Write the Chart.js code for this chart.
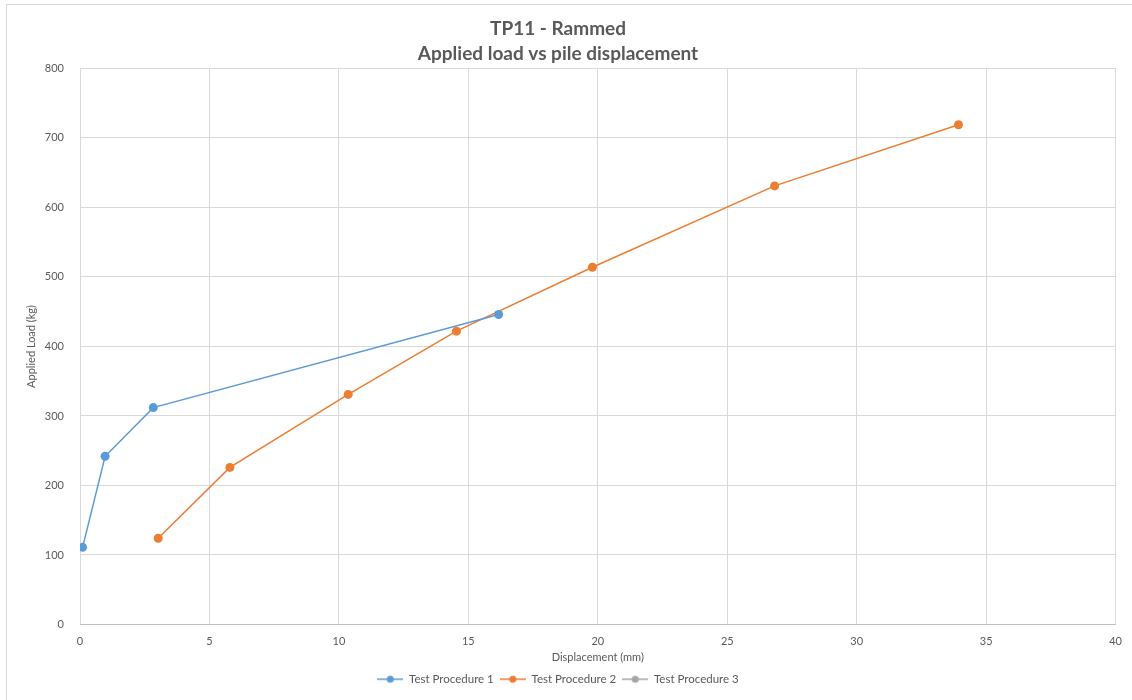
<!DOCTYPE html>
<html>
<head>
<meta charset="utf-8">
<script src="https://cdn.jsdelivr.net/npm/chart.js@4"></script>
<style>
  html, body { margin: 0; padding: 0; background: #fff; }
  #wrap { position: absolute; left: 0; top: 0; width: 1132px; height: 700px; }
  #frame { position: absolute; left: 6px; top: 4px; width: 1140px; height: 710px; border: 1px solid #d9d9d9; box-sizing: border-box; pointer-events: none; }
</style>
</head>
<body>
<div id="wrap">
  <canvas id="grafico" width="1132" height="700"></canvas>
  <div id="frame"></div>
</div>
<script>
// Dados (deslocamento em mm, carga em kg)
const tp1Deslocamento = [0.1, 0.97, 2.83, 16.17];
const tp1Carga = [111, 242, 312, 446];
const tp2Deslocamento = [3.02, 5.79, 10.36, 14.54, 19.79, 26.83, 33.93];
const tp2Carga = [124, 226, 331, 422, 514, 631, 719];
const tp3Deslocamento = [];
const tp3Carga = [];

const nomesSeries = ['Test Procedure 1', 'Test Procedure 2', 'Test Procedure 3'];
const coresSeries = ['#5b9bd5', '#ed7d31', '#a5a5a5'];

const corTexto = '#595959';
const fonteBase = 'Lato, "Open Sans", sans-serif';

function juntaPontos(xs, ys) {
    return xs.map((x, i) => ({ x: x, y: ys[i] }));
}

// icone da legenda: linha com bolinha no meio
function iconeLegenda(cor) {
    const c = document.createElement('canvas');
    c.width = 26; c.height = 10;
    const g = c.getContext('2d');
    g.strokeStyle = cor;
    g.lineWidth = 1.5;
    g.beginPath(); g.moveTo(0, 5); g.lineTo(26, 5); g.stroke();
    g.fillStyle = cor;
    g.beginPath(); g.arc(13, 5, 3.5, 0, Math.PI * 2); g.fill();
    return c;
}

const series = [
    juntaPontos(tp1Deslocamento, tp1Carga),
    juntaPontos(tp2Deslocamento, tp2Carga),
    juntaPontos(tp3Deslocamento, tp3Carga)
];

const ctx = document.getElementById('grafico').getContext('2d');
new Chart(ctx, {
    type: 'scatter',
    data: {
        datasets: series.map((pts, i) => ({
            label: nomesSeries[i],
            data: pts,
            showLine: true,
            borderColor: coresSeries[i],
            backgroundColor: coresSeries[i],
            borderWidth: 1.5,
            pointRadius: 4.5,
            pointBorderWidth: 0,
            pointHoverRadius: 4.5,
            tension: 0
        }))
    },
    options: {
        responsive: false,
        animation: false,
        layout: { padding: { left: 0, right: 16, top: 0, bottom: 5 } },
        plugins: {
            title: {
                display: true,
                text: ['TP11 - Rammed', 'Applied load vs pile displacement'],
                color: corTexto,
                font: { family: fonteBase, size: 19, weight: 'bold', lineHeight: 1.3 },
                padding: { top: 17, bottom: 2 }
            },
            legend: {
                position: 'bottom',
                labels: {
                    color: corTexto,
                    font: { family: fonteBase, size: 11.5 },
                    usePointStyle: true,
                    pointStyleWidth: 26,
                    boxHeight: 10,
                    padding: 6,
                    generateLabels: (chart) => chart.data.datasets.map((ds, i) => ({
                        text: ds.label,
                        pointStyle: iconeLegenda(coresSeries[i]),
                        fontColor: corTexto,
                        datasetIndex: i,
                        hidden: false,
                        lineWidth: 0
                    }))
                }
            },
            tooltip: { enabled: false }
        },
        scales: {
            x: {
                type: 'linear',
                min: 0,
                max: 40,
                ticks: { stepSize: 5, color: corTexto, font: { family: fonteBase, size: 11 }, padding: 10 },
                grid: { color: '#d9d9d9', drawTicks: false },
                border: { color: '#bfbfbf' },
                title: {
                    display: true,
                    text: 'Displacement (mm)',
                    color: corTexto,
                    font: { family: fonteBase, size: 11 },
                    padding: { top: 4, bottom: 3 }
                },
                afterFit: (scale) => { scale.height = 43; }
            },
            y: {
                min: 0,
                max: 800,
                ticks: { stepSize: 100, color: corTexto, font: { family: fonteBase, size: 11 }, padding: 16 },
                grid: { color: '#d9d9d9', drawTicks: false },
                border: { display: false },
                title: {
                    display: true,
                    text: 'Applied Load (kg)',
                    color: corTexto,
                    font: { family: fonteBase, size: 11 },
                    padding: { top: 25, bottom: 0 }
                },
                afterFit: (scale) => { scale.width = 80; }
            }
        }
    }
});
</script>
</body>
</html>
